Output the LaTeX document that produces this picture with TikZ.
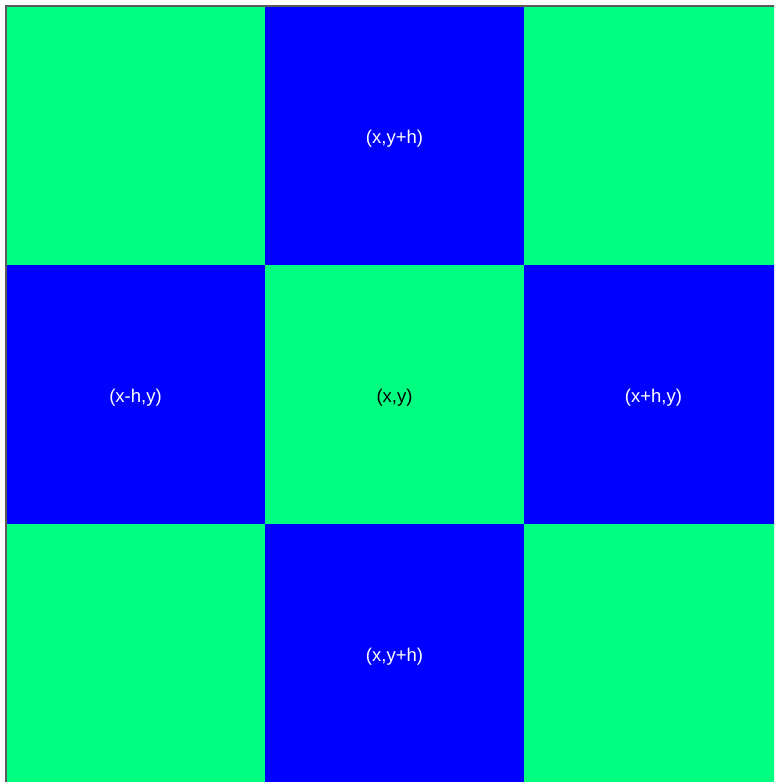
\documentclass[tikz,border=0pt]{standalone}
\usepackage{fontspec}
\setmainfont{Liberation Sans}
\usepackage{tikz}
\usetikzlibrary{positioning}

\definecolor{gridgreen}{HTML}{00FF80}
\definecolor{gridblue}{HTML}{0000FF}
\definecolor{gridedge}{HTML}{5A5A5A}

\begin{document}
\begin{tikzpicture}[
x=1pt, y=-1pt,
    cell/.style={rectangle, minimum size=259pt, inner sep=0pt, outer sep=0pt, text height=20pt, text depth=4pt, font=\fontsize{18.5}{20}\selectfont},
    greencell/.style={cell, fill=gridgreen, text=black},
    bluecell/.style={cell, fill=gridblue, text=white},
    frame/.style={draw=gridedge, line width=1.2pt}
]
    \useasboundingbox (0,0) rectangle (774,782);
    \clip (0,0) rectangle (774,782);

    % ================= TOP ROW =================
    \node[greencell] (tl) at (135.5, 135.5) {};
    \node[bluecell] (top) at (394.5, 135.5) {(x,y+h)};
    \node[greencell] (tr) at (653.5, 135.5) {};

    % ================= MIDDLE ROW =================
    \node[bluecell] (left) at (135.5, 394.5) {(x-h,y)};
    \node[greencell] (mid) at (394.5, 394.5) {(x,y)};
    \node[bluecell] (right) at (653.5, 394.5) {(x+h,y)};

    % ================= BOTTOM ROW =================
    \node[greencell] (bl) at (135.5, 653.5) {};
    \node[bluecell] (bottom) at (394.5, 653.5) {(x,y+h)};
    \node[greencell] (br) at (653.5, 653.5) {};

    % outer frame, left and top edges only
    \draw[frame] (bl.south west) -- (tl.north west) -- (tr.north east);
\end{tikzpicture}
\end{document}
